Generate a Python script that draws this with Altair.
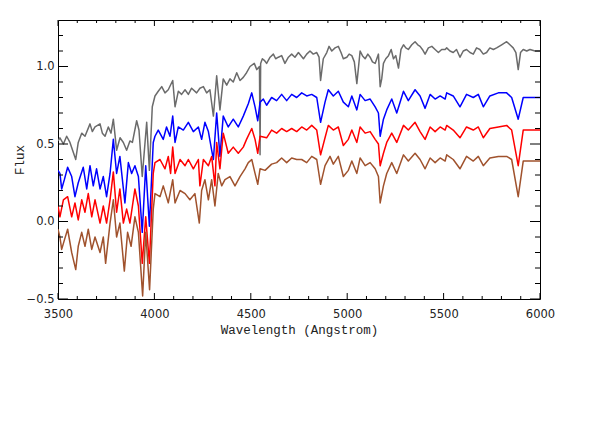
import altair as alt
import pandas as pd

# ---------------- data ----------------
gray_wave = [3500, 3510, 3528, 3545, 3562, 3592, 3605, 3623, 3640, 3666, 3678, 3692, 3718, 3730,
             3744, 3761, 3775, 3787, 3804, 3822, 3839, 3856, 3873, 3886, 3908, 3920, 3937, 3960,
             3974, 3989, 4003, 4020, 4038, 4055, 4072, 4095, 4107, 4124, 4141, 4159, 4176, 4193,
             4219, 4236, 4254, 4271, 4288, 4306, 4323, 4340, 4357, 4375, 4392, 4409, 4427, 4444,
             4461, 4478, 4496, 4518, 4531, 4545, 4548, 4551, 4560, 4570, 4582, 4600, 4617, 4629,
             4643, 4660, 4677, 4695, 4712, 4729, 4747, 4773, 4790, 4807, 4824, 4842, 4854, 4862,
             4876, 4894, 4906, 4920, 4937, 4954, 4968, 4980, 4998, 5010, 5024, 5037, 5050, 5067,
             5079, 5093, 5107, 5119, 5131, 5145, 5162, 5171, 5179, 5188, 5200, 5214, 5228, 5240,
             5252, 5266, 5279, 5292, 5304, 5317, 5335, 5352, 5366, 5378, 5390, 5404, 5421, 5439,
             5456, 5473, 5490, 5508, 5516, 5533, 5550, 5567, 5585, 5602, 5619, 5637, 5654, 5671,
             5688, 5706, 5723, 5740, 5758, 5775, 5801, 5827, 5844, 5861, 5875, 5887, 5899, 5913,
             5931, 5948, 5974, 6000]
gray_flux = [0.52, 0.54, 0.50, 0.55, 0.51, 0.40, 0.51, 0.57, 0.55, 0.63, 0.58, 0.61, 0.63, 0.57,
             0.55, 0.61, 0.57, 0.66, 0.46, 0.54, 0.51, 0.46, 0.52, 0.51, 0.65, 0.59, 0.29, 0.64,
             0.33, 0.74, 0.81, 0.84, 0.87, 0.83, 0.85, 0.91, 0.74, 0.84, 0.82, 0.85, 0.82, 0.86,
             0.83, 0.86, 0.87, 0.83, 0.85, 0.68, 0.94, 0.72, 0.92, 0.88, 0.92, 0.90, 0.96, 0.91,
             0.93, 0.96, 1.00, 1.02, 0.98, 1.00, 0.43, 1.02, 1.05, 1.04, 1.02, 1.06, 1.08, 1.05,
             1.06, 1.07, 1.02, 1.06, 1.08, 1.06, 1.09, 1.05, 1.08, 1.10, 1.08, 1.09, 1.06, 0.91,
             1.05, 1.09, 1.13, 1.10, 1.12, 1.13, 1.09, 1.05, 1.06, 1.08, 1.07, 1.03, 0.89, 1.10,
             1.07, 1.05, 1.08, 1.06, 1.03, 1.02, 1.08, 0.87, 0.92, 1.02, 1.05, 1.07, 1.11, 1.05,
             1.07, 0.99, 1.11, 1.14, 1.12, 1.11, 1.14, 1.16, 1.14, 1.13, 1.11, 1.08, 1.12, 1.13,
             1.11, 1.09, 1.11, 1.11, 1.12, 1.10, 1.09, 1.11, 1.06, 1.10, 1.11, 1.09, 1.08, 1.12,
             1.11, 1.08, 1.09, 1.12, 1.11, 1.12, 1.14, 1.16, 1.14, 1.12, 1.09, 0.98, 1.09, 1.11,
             1.10, 1.11, 1.10, 1.10]

blue_wave = [3500, 3510, 3519, 3533, 3550, 3571, 3588, 3605, 3631, 3649, 3666, 3683, 3700, 3718,
             3735, 3752, 3770, 3787, 3804, 3821, 3847, 3865, 3882, 3899, 3917, 3937, 3955, 3974,
             3994, 4003, 4020, 4046, 4063, 4081, 4095, 4107, 4124, 4150, 4176, 4202, 4228, 4245,
             4262, 4280, 4297, 4306, 4323, 4340, 4357, 4383, 4409, 4435, 4461, 4487, 4505, 4522,
             4536, 4548, 4565, 4582, 4608, 4634, 4660, 4686, 4712, 4738, 4764, 4790, 4816, 4842,
             4862, 4885, 4902, 4928, 4954, 4980, 5006, 5024, 5050, 5067, 5093, 5119, 5145, 5162,
             5171, 5188, 5205, 5231, 5257, 5292, 5317, 5352, 5378, 5404, 5430, 5456, 5482, 5508,
             5516, 5550, 5585, 5619, 5654, 5680, 5706, 5740, 5784, 5827, 5853, 5887, 5913, 5948,
             6000]
blue_flux = [0.33, 0.31, 0.21, 0.27, 0.35, 0.29, 0.16, 0.25, 0.35, 0.21, 0.36, 0.23, 0.34, 0.21,
             0.29, 0.16, 0.31, 0.53, 0.31, 0.42, 0.12, 0.38, 0.31, 0.36, 0.29, -0.07, 0.36, -0.03,
             0.51, 0.55, 0.59, 0.53, 0.61, 0.55, 0.68, 0.51, 0.61, 0.59, 0.64, 0.58, 0.61, 0.53,
             0.64, 0.58, 0.46, 0.40, 0.70, 0.42, 0.68, 0.61, 0.66, 0.61, 0.68, 0.76, 0.83, 0.74,
             0.65, 0.77, 0.79, 0.75, 0.80, 0.78, 0.82, 0.78, 0.82, 0.80, 0.83, 0.81, 0.82, 0.80,
             0.64, 0.77, 0.85, 0.81, 0.84, 0.77, 0.74, 0.81, 0.72, 0.82, 0.78, 0.79, 0.74, 0.70,
             0.55, 0.66, 0.72, 0.79, 0.70, 0.84, 0.78, 0.85, 0.81, 0.73, 0.82, 0.79, 0.81, 0.79,
             0.83, 0.81, 0.74, 0.82, 0.80, 0.82, 0.74, 0.81, 0.83, 0.83, 0.80, 0.66, 0.80, 0.80,
             0.80]

red_wave = [3500, 3510, 3528, 3550, 3571, 3588, 3605, 3623, 3640, 3657, 3675, 3692, 3718, 3735,
            3752, 3770, 3787, 3804, 3821, 3839, 3856, 3873, 3899, 3917, 3937, 3955, 3974, 3994,
            4003, 4029, 4055, 4072, 4084, 4095, 4107, 4133, 4159, 4176, 4202, 4228, 4236, 4254,
            4280, 4297, 4314, 4323, 4340, 4357, 4383, 4409, 4435, 4461, 4478, 4505, 4522, 4536,
            4548, 4582, 4608, 4634, 4660, 4686, 4712, 4738, 4764, 4790, 4816, 4842, 4862, 4885,
            4902, 4928, 4954, 4980, 5006, 5024, 5050, 5067, 5093, 5119, 5145, 5162, 5171, 5188,
            5205, 5231, 5257, 5292, 5317, 5352, 5378, 5404, 5430, 5456, 5482, 5508, 5516, 5550,
            5585, 5619, 5654, 5680, 5706, 5740, 5784, 5827, 5853, 5887, 5913, 5948, 6000]
red_flux = [0.10, 0.03, 0.14, 0.16, 0.03, 0.12, 0.01, 0.14, 0.06, 0.18, 0.03, 0.14, -0.01, 0.10,
            -0.01, 0.14, 0.32, 0.06, 0.21, -0.01, 0.08, -0.01, 0.21, 0.10, -0.27, 0.03, -0.27, 0.31,
            0.38, 0.40, 0.34, 0.42, 0.31, 0.48, 0.31, 0.40, 0.36, 0.40, 0.34, 0.40, 0.23, 0.40,
            0.36, 0.42, 0.23, 0.51, 0.34, 0.57, 0.44, 0.48, 0.44, 0.48, 0.53, 0.60, 0.53, 0.44,
            0.55, 0.54, 0.59, 0.57, 0.60, 0.58, 0.60, 0.58, 0.61, 0.59, 0.62, 0.59, 0.43, 0.54,
            0.62, 0.59, 0.61, 0.49, 0.53, 0.59, 0.51, 0.61, 0.57, 0.58, 0.53, 0.50, 0.36, 0.44,
            0.51, 0.57, 0.51, 0.62, 0.59, 0.64, 0.58, 0.53, 0.61, 0.58, 0.61, 0.59, 0.62, 0.59,
            0.54, 0.61, 0.59, 0.61, 0.54, 0.60, 0.61, 0.62, 0.59, 0.36, 0.59, 0.59, 0.59]

brown_wave = [3500, 3510, 3519, 3533, 3550, 3571, 3592, 3605, 3623, 3640, 3657, 3675, 3692, 3718,
              3735, 3747, 3770, 3787, 3804, 3821, 3844, 3861, 3879, 3899, 3917, 3939, 3955, 3975,
              3994, 4003, 4029, 4046, 4072, 4095, 4107, 4133, 4159, 4184, 4210, 4233, 4245, 4262,
              4280, 4297, 4314, 4331, 4349, 4366, 4392, 4418, 4444, 4470, 4487, 4505, 4522, 4536,
              4548, 4574, 4608, 4634, 4660, 4686, 4712, 4738, 4764, 4790, 4816, 4842, 4862, 4885,
              4911, 4928, 4954, 4980, 5006, 5024, 5050, 5067, 5093, 5119, 5145, 5162, 5171, 5188,
              5205, 5231, 5257, 5292, 5317, 5352, 5378, 5404, 5430, 5456, 5482, 5508, 5516, 5550,
              5585, 5619, 5654, 5680, 5706, 5740, 5784, 5827, 5853, 5887, 5913, 5948, 6000]
brown_flux = [-0.05, -0.10, -0.18, -0.12, -0.05, -0.20, -0.31, -0.16, -0.07, -0.16, -0.05, -0.18,
              -0.10, -0.20, -0.10, -0.27, -0.01, 0.14, -0.10, -0.01, -0.32, -0.07, -0.16, 0.03,
              -0.07, -0.48, -0.07, -0.44, 0.08, 0.18, 0.16, 0.23, 0.12, 0.27, 0.12, 0.20, 0.18,
              0.14, 0.18, -0.01, 0.20, 0.27, 0.14, 0.27, 0.10, 0.31, 0.23, 0.27, 0.29, 0.23, 0.29,
              0.34, 0.38, 0.40, 0.31, 0.24, 0.34, 0.33, 0.37, 0.38, 0.41, 0.38, 0.41, 0.40, 0.40,
              0.38, 0.42, 0.40, 0.24, 0.36, 0.42, 0.37, 0.42, 0.29, 0.33, 0.39, 0.31, 0.41, 0.36,
              0.38, 0.34, 0.29, 0.12, 0.23, 0.31, 0.38, 0.31, 0.43, 0.39, 0.44, 0.40, 0.34, 0.41,
              0.38, 0.41, 0.39, 0.43, 0.40, 0.34, 0.42, 0.39, 0.42, 0.36, 0.41, 0.42, 0.42, 0.40,
              0.16, 0.39, 0.39, 0.39]

series_names = ["gray", "blue", "red", "brown"]
series_colors = ["#6b6b6b", "#0000ff", "#ff0000", "#a0522d"]

x_major = [3500, 4000, 4500, 5000, 5500, 6000]
x_minor = [3600, 3700, 3800, 3900, 4100, 4200, 4300, 4400, 4600, 4700, 4800, 4900,
           5100, 5200, 5300, 5400, 5600, 5700, 5800, 5900]
y_major = [-0.5, 0.0, 0.5, 1.0]
y_minor = [-0.4, -0.3, -0.2, -0.1, 0.1, 0.2, 0.3, 0.4, 0.6, 0.7, 0.8, 0.9, 1.1, 1.2]

# ---------------- chart ----------------
W, H = 482, 279
x_scale = alt.Scale(domain=[3500, 6000], nice=False, zero=False)
y_scale = alt.Scale(domain=[-0.5, 1.3], nice=False, zero=False)

waves = [gray_wave, blue_wave, red_wave, brown_wave]
fluxes = [gray_flux, blue_flux, red_flux, brown_flux]

x_axis = alt.Axis(title="Wavelength (Angstrom)", values=x_major, format="d", ticks=False,
                  tickSize=0, domain=False, grid=False, labelPadding=9, labelFont="DejaVu Sans",
                  labelFontSize=11.5, labelColor="#222222", labelFontWeight="normal",
                  titleFont="Liberation Mono", titleFontSize=12.5, titleFontWeight="normal",
                  titleColor="#222222", titlePadding=4, labelFlush=False)
y_axis = alt.Axis(title="Flux", values=y_major, format=".1f", ticks=False, tickSize=0,
                  domain=False, grid=False, labelPadding=4, labelFont="DejaVu Sans",
                  labelFontSize=11.5, labelColor="#222222", titleFont="Liberation Mono",
                  titleFontSize=12.5, titleFontWeight="normal", titleColor="#222222",
                  titlePadding=0, labelFlush=False)


def X(field):
    return alt.X(field, scale=x_scale, axis=x_axis)


def Y(field):
    return alt.Y(field, scale=y_scale, axis=y_axis)


layers = []
for i, (name, col) in enumerate(zip(series_names, series_colors)):
    df = pd.DataFrame({"wave": waves[i], "flux": fluxes[i], "series": name})
    layers.append(
        alt.Chart(df).mark_line(color=col, strokeWidth=1.5, clip=True, strokeJoin="round")
        .encode(x=X("wave:Q"), y=Y("flux:Q"))
    )


def xticks(vals, length):
    d = pd.DataFrame({"wave": vals})
    base = alt.Chart(d).mark_rule(color="black", strokeWidth=1)
    bottom = base.encode(x=X("wave:Q"), y=alt.value(H), y2=alt.value(H - length))
    top = base.encode(x=X("wave:Q"), y=alt.value(0), y2=alt.value(length))
    return [bottom, top]


def yticks(vals, length):
    d = pd.DataFrame({"flux": vals})
    base = alt.Chart(d).mark_rule(color="black", strokeWidth=1)
    left = base.encode(y=Y("flux:Q"), x=alt.value(0), x2=alt.value(length))
    right = base.encode(y=Y("flux:Q"), x=alt.value(W), x2=alt.value(W - length))
    return [left, right]


tick_layers = xticks(x_major, 6) + xticks(x_minor, 3) + yticks(y_major, 10) + yticks(y_minor, 5)

chart = alt.layer(*layers, *tick_layers).properties(
    width=W, height=H,
    padding={"left": 50, "top": 12, "right": 45, "bottom": 90},
    autosize=alt.AutoSizeParams(type="none"),
    background="white",
).configure_view(stroke="black", strokeWidth=1)

chart.save("out.html", embed_options={"renderer": "svg", "actions": False})
